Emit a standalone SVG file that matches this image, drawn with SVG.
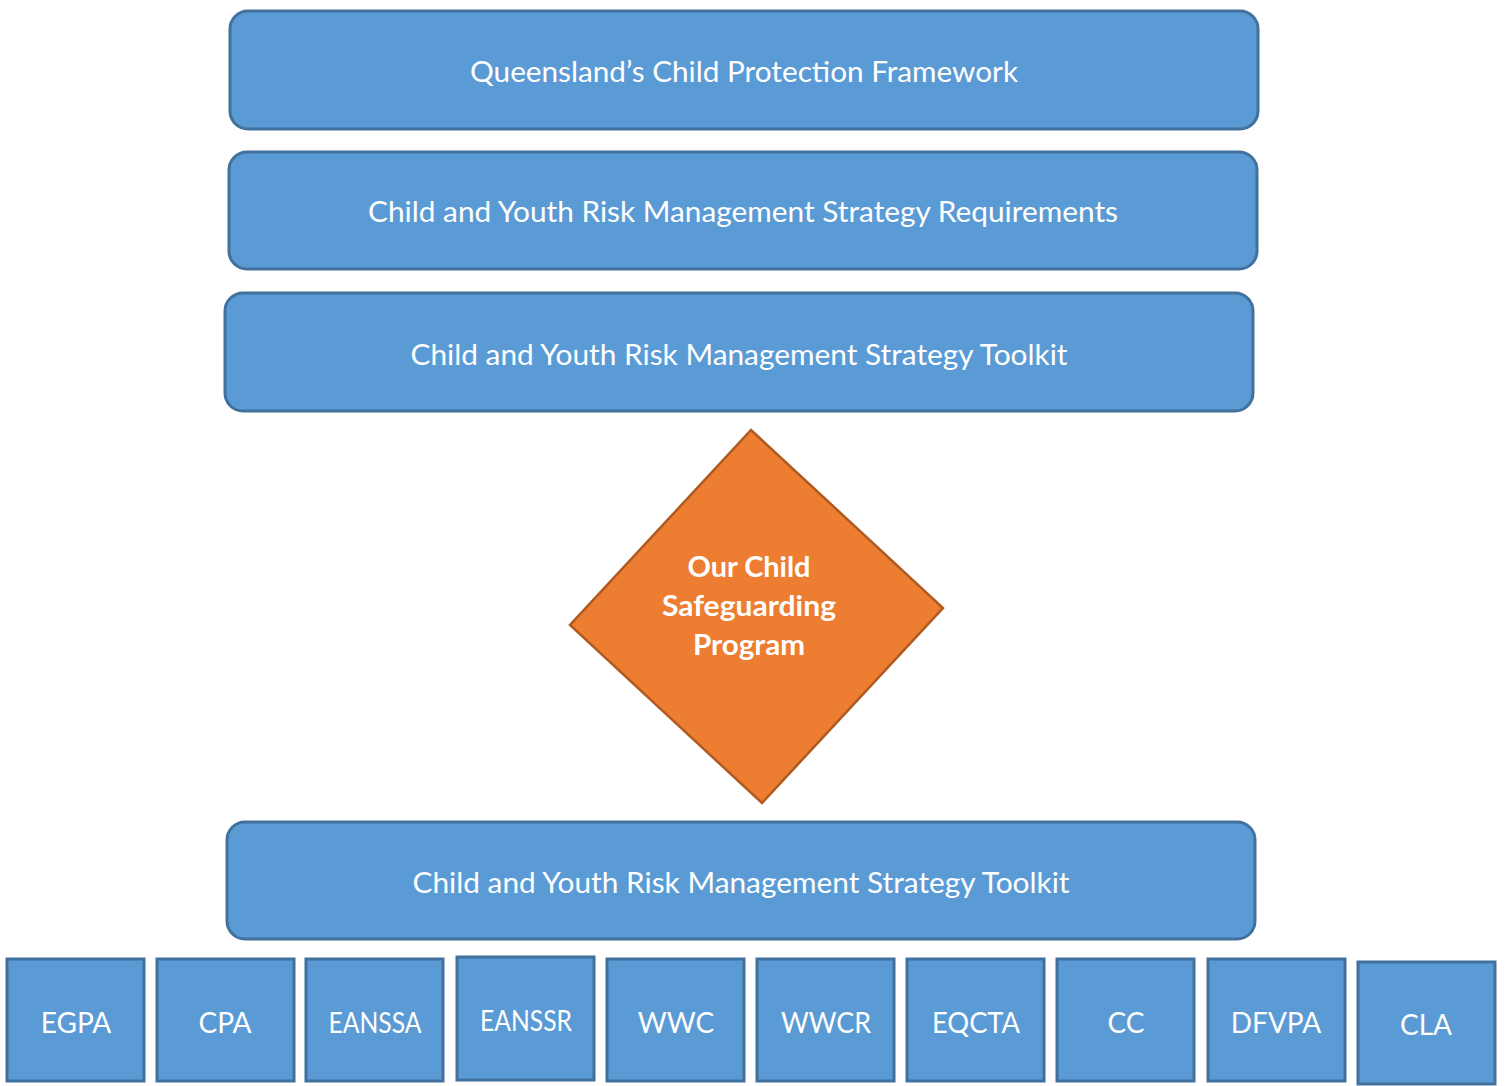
<svg xmlns="http://www.w3.org/2000/svg" width="1511" height="1086" viewBox="0 0 1511 1086">
  <style>
    .band { fill: #5b9bd5; stroke: #41719c; stroke-width: 3; }
    .tile { fill: #5b9bd5; stroke: #41719c; stroke-width: 3; }
    .core { fill: #ed7d31; stroke: #ae5a21; stroke-width: 2.5; }
    .lbl { font-family: Lato, "Open Sans", sans-serif; font-size: 28px; fill: #ffffff; text-anchor: middle; dominant-baseline: central; }
    .bold { font-weight: bold; }
  </style>
  <rect width="1511" height="1086" fill="#ffffff"/>

  <g id="framework">
    <rect class="band" x="230" y="11" width="1028" height="118" rx="18"/>
    <text class="lbl" x="744" y="71" textLength="548" lengthAdjust="spacingAndGlyphs">Queensland’s Child Protection Framework</text>
  </g>
  <g id="requirements">
    <rect class="band" x="229" y="152" width="1028" height="117" rx="18"/>
    <text class="lbl" x="743" y="211" textLength="750" lengthAdjust="spacingAndGlyphs">Child and Youth Risk Management Strategy Requirements</text>
  </g>
  <g id="toolkit-top">
    <rect class="band" x="225" y="293" width="1028" height="118" rx="18"/>
    <text class="lbl" x="739" y="354" textLength="657" lengthAdjust="spacingAndGlyphs">Child and Youth Risk Management Strategy Toolkit</text>
  </g>

  <g id="program">
    <polygon class="core" points="751,430 943,608 762,803 570,625"/>
    <text class="lbl bold" x="749" y="566" textLength="123" lengthAdjust="spacingAndGlyphs">Our Child</text>
    <text class="lbl bold" x="749" y="605" textLength="174" lengthAdjust="spacingAndGlyphs">Safeguarding</text>
    <text class="lbl bold" x="749" y="644" textLength="112" lengthAdjust="spacingAndGlyphs">Program</text>
  </g>

  <g id="toolkit-bottom">
    <rect class="band" x="227" y="822" width="1028" height="117" rx="18"/>
    <text class="lbl" x="741" y="882" textLength="657" lengthAdjust="spacingAndGlyphs">Child and Youth Risk Management Strategy Toolkit</text>
  </g>

  <g id="egpa"><rect class="tile" x="7" y="959" width="137" height="122"/><text class="lbl" x="76" y="1022">EGPA</text></g>
  <g id="cpa"><rect class="tile" x="157" y="959" width="137" height="122"/><text class="lbl" x="225" y="1022">CPA</text></g>
  <g id="eanssa"><rect class="tile" x="306" y="959" width="137" height="122"/><text class="lbl" x="375" y="1022" textLength="93" lengthAdjust="spacingAndGlyphs">EANSSA</text></g>
  <g id="eanssr"><rect class="tile" x="457" y="957" width="137" height="123"/><text class="lbl" x="526" y="1020" textLength="92" lengthAdjust="spacingAndGlyphs">EANSSR</text></g>
  <g id="wwc"><rect class="tile" x="607" y="959" width="137" height="122"/><text class="lbl" x="676" y="1022">WWC</text></g>
  <g id="wwcr"><rect class="tile" x="757" y="959" width="137" height="122"/><text class="lbl" x="826" y="1022" textLength="90" lengthAdjust="spacingAndGlyphs">WWCR</text></g>
  <g id="eqcta"><rect class="tile" x="907" y="959" width="137" height="122"/><text class="lbl" x="976" y="1022" textLength="88" lengthAdjust="spacingAndGlyphs">EQCTA</text></g>
  <g id="cc"><rect class="tile" x="1057" y="959" width="137" height="122"/><text class="lbl" x="1126" y="1022">CC</text></g>
  <g id="dfvpa"><rect class="tile" x="1208" y="959" width="137" height="122"/><text class="lbl" x="1276" y="1022">DFVPA</text></g>
  <g id="cla"><rect class="tile" x="1358" y="962" width="137" height="122"/><text class="lbl" x="1426" y="1024">CLA</text></g>

  <g id="connectors"></g>
</svg>
